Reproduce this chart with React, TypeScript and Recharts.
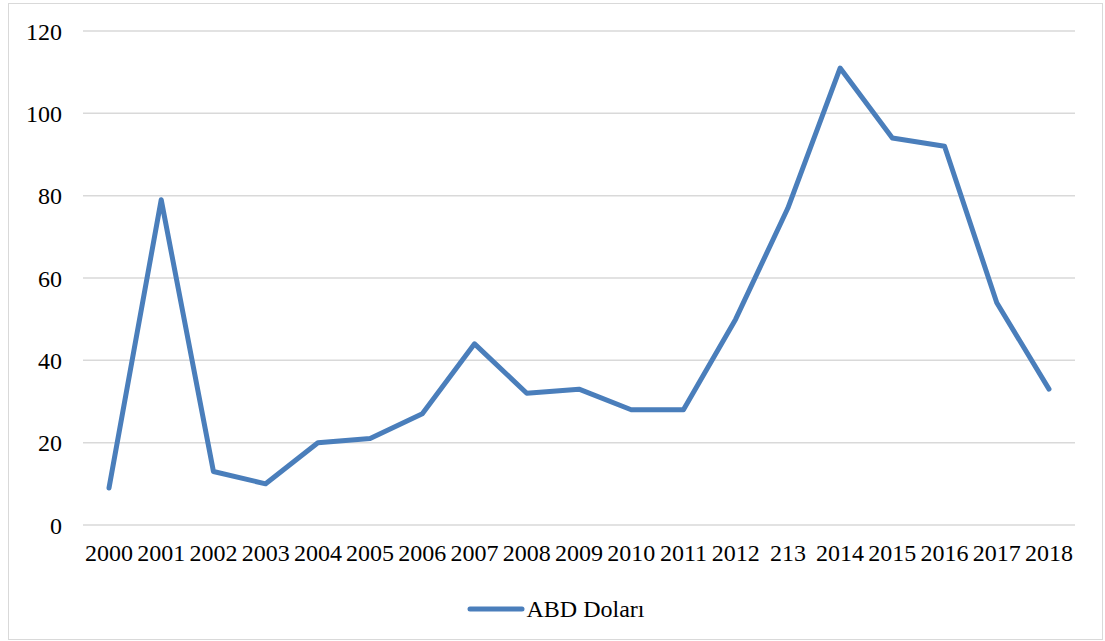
import { LineChart, Line, XAxis, YAxis, CartesianGrid, Legend } from 'recharts';

const YEARS = [
  '2000', '2001', '2002', '2003', '2004', '2005', '2006', '2007', '2008', '2009',
  '2010', '2011', '2012', '213', '2014', '2015', '2016', '2017', '2018',
];

const USD = [9, 79, 13, 10, 20, 21, 27, 44, 32, 33, 28, 28, 50, 77, 111, 94, 92, 54, 33];

const Y_TICKS = [0, 20, 40, 60, 80, 100, 120];

const SERIES_NAME = 'ABD Doları';
const LINE_COLOR = '#4A7EBB';
const FONT = '"Liberation Serif", "Times New Roman", serif';
const FONT_SIZE = 24;

const data = YEARS.map((year, i) => ({ year, value: USD[i] }));

const LegendContent = () => (
  <div style={{ height: 54, paddingTop: 7, boxSizing: 'border-box', textAlign: 'center', fontFamily: FONT, fontSize: FONT_SIZE, color: '#000' }}>
    <span style={{ display: 'inline-flex', alignItems: 'center', lineHeight: '24px' }}>
      <svg width={58} height={8} style={{ marginRight: 2 }}>
        <line x1={3} y1={4} x2={55} y2={4} stroke={LINE_COLOR} strokeWidth={5} strokeLinecap="round" />
      </svg>
      {SERIES_NAME}
    </span>
  </div>
);

const App = () => {
  return (
    <div style={{ position: 'absolute', left: 8, top: 3, width: 1093, height: 635, border: '1px solid #d9d9d9', background: '#fff' }}>
      <LineChart width={1093} height={635} data={data} margin={{ top: 27, right: 27, left: 0, bottom: 0 }}>
        <CartesianGrid vertical={false} stroke="#d9d9d9" strokeWidth={1.5} />
        <XAxis
          dataKey="year"
          interval={0}
          padding={{ left: 26, right: 26 }}
          axisLine={false}
          tickLine={false}
          tickSize={0}
          tickMargin={19}
          height={60}
          tick={{ fontSize: FONT_SIZE, fontFamily: FONT, fill: '#000' }}
        />
        <YAxis
          domain={[0, 120]}
          ticks={Y_TICKS}
          width={74}
          axisLine={false}
          tickLine={false}
          tickSize={0}
          tickMargin={21}
          tick={{ fontSize: FONT_SIZE, fontFamily: FONT, fill: '#000' }}
        />
        <Legend verticalAlign="bottom" content={<LegendContent />} wrapperStyle={{ left: 0, width: 1093 }} />
        <Line
          type="linear"
          dataKey="value"
          name={SERIES_NAME}
          stroke={LINE_COLOR}
          strokeWidth={5}
          strokeLinejoin="round"
          strokeLinecap="round"
          dot={false}
          activeDot={false}
          isAnimationActive={false}
        />
      </LineChart>
    </div>
  );
};

export default App;
